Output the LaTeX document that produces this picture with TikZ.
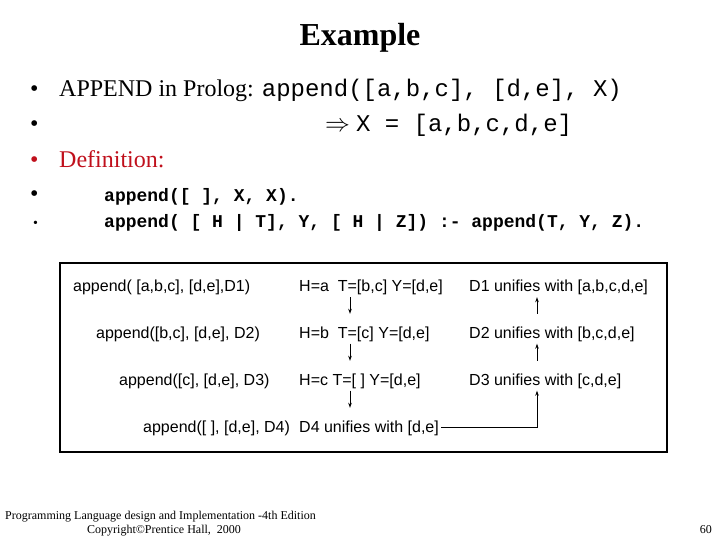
\documentclass[tikz,border=0pt]{standalone}
\usepackage{fontspec}
\setmainfont{Liberation Serif}
\setsansfont{Liberation Sans}
\setmonofont{Liberation Mono}
\usetikzlibrary{arrows.meta,positioning}
\definecolor{defred}{RGB}{192,16,28}

\begin{document}
\begin{tikzpicture}[x=1pt, y=-1pt,
    txt/.style={anchor=base west, inner sep=0pt},
    bul/.style={anchor=base west, inner sep=0pt, font=\fontsize{24}{24}\selectfont},
    cell/.style={anchor=base west, inner sep=2pt, text height=12pt, text depth=3.5pt,
        font=\sffamily\fontsize{16}{16}\selectfont},
    arr/.style={line width=0.8pt, -{Stealth[length=5pt, width=3.5pt]}},
    foot/.style={anchor=base west, inner sep=0pt, font=\fontsize{12}{12}\selectfont}]

    \useasboundingbox (0,0) rectangle (720,540);

    %----- TITLE -----
    \node[anchor=base, inner sep=0pt, font=\bfseries\fontsize{32}{32}\selectfont] (title) at (360,46) {Example};

    %----- BULLETS -----
    \node[bul] (b1) at (30,97) {•};
    \node[txt, font=\fontsize{24}{24}\selectfont] (l1) at (59,97)
        {APPEND in Prolog: \texttt{append([a,b,c], [d,e], X)}};
    \node[bul] (b2) at (30,132) {•};
    \node[txt, font=\fontsize{24}{24}\selectfont] (l2) at (325,132)
        {$\Rightarrow$ \texttt{X = [a,b,c,d,e]}};
    \node[bul, text=defred] (b3) at (30,168) {•};
    \node[txt, text=defred, font=\fontsize{24}{24}\selectfont] (l3) at (59,168) {Definition:};
    \node[bul] (b4) at (30,202) {•};
    \node[txt, font=\ttfamily\bfseries\fontsize{18}{18}\selectfont] (l4) at (104,202)
        {append([ ], X, X).};
    \node[bul, font=\fontsize{14}{14}\selectfont] (b5) at (33,228) {•};
    \node[txt, font=\ttfamily\bfseries\fontsize{18}{18}\selectfont] (l5) at (104,228)
        {append( [ H | T], Y, [ H | Z]) :- append(T, Y, Z).};

    %----- BOX -----
    \draw[line width=2pt] (60,263) rectangle (667,452);

    % calls
    \node[cell] (c1) at (71,291.5) {append( [a,b,c], [d,e],D1)};
    \node[cell] (c2) at (94,338) {append([b,c], [d,e], D2)};
    \node[cell] (c3) at (117,385) {append([c], [d,e], D3)};
    \node[cell] (c4) at (141,432) {append([ ], [d,e], D4)};

    % bindings
    \node[cell] (h1) at (297,291.5) {H=a \ T=[b,c] Y=[d,e]};
    \node[cell] (h2) at (297,338) {H=b \ T=[c] Y=[d,e]};
    \node[cell] (h3) at (297,385) {H=c T=[ ] Y=[d,e]};
    \node[cell] (u4) at (297,432) {D4 unifies with [d,e]};

    % results
    \node[cell] (u1) at (467,291.5) {D1 unifies with [a,b,c,d,e]};
    \node[cell] (u2) at (467,338) {D2 unifies with [b,c,d,e]};
    \node[cell] (u3) at (467,385) {D3 unifies with [c,d,e]};

    %----- ARROWS -----
    \coordinate (dn) at (350,0);
    \coordinate (up) at (537,0);
    \draw[arr, shorten >=10pt] (h1.south -| dn) -- (h2.north -| dn);
    \draw[arr, shorten >=10pt] (h2.south -| dn) -- (h3.north -| dn);
    \draw[arr, shorten >=10pt] (h3.south -| dn) -- (u4.north -| dn);
    \draw[arr, shorten <=10pt] (u2.north -| up) -- (u1.south -| up);
    \draw[arr, shorten <=10pt] (u3.north -| up) -- (u2.south -| up);
    \draw[arr] (u4.east) -| (u3.south -| up);

    %----- FOOTER -----
    \node[foot] (f1) at (5,519) {Programming Language design and Implementation -4th Edition};
    \node[foot] (f2) at (87,533) {Copyright©Prentice Hall, \ 2000};
    \node[foot, anchor=base east] (pg) at (712,533) {60};

\end{tikzpicture}
\end{document}
